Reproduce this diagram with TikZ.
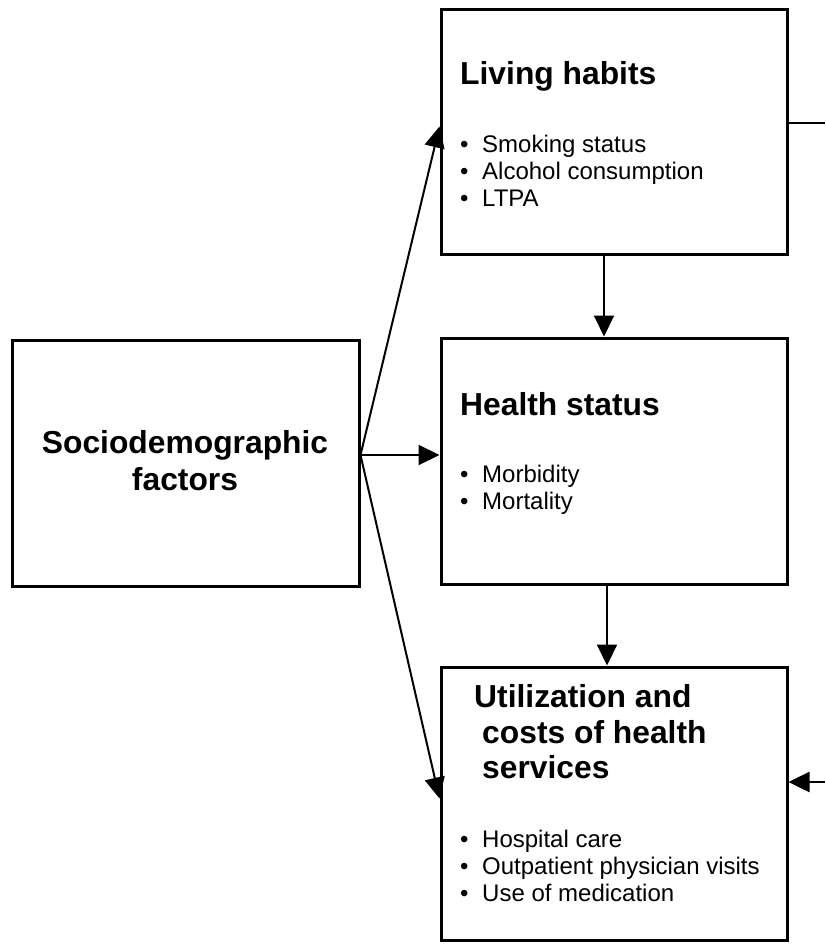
\documentclass[tikz,border=0pt]{standalone}
\usepackage{fontspec}
\setmainfont{Liberation Sans}
\usetikzlibrary{arrows.meta}
\begin{document}
\begin{tikzpicture}[x=1pt,y=-1pt,
  box/.style={draw,line width=3pt,rectangle,inner sep=0pt,minimum width=#1},
  ttl/.style={anchor=base west,inner sep=0pt,font=\fontsize{31.8}{36}\selectfont\bfseries},
  ttlc/.style={anchor=base,inner sep=0pt,font=\fontsize{31.8}{36}\selectfont\bfseries},
  itm/.style={anchor=base west,inner sep=0pt,font=\fontsize{24}{27}\selectfont},
  arr/.style={line width=2pt,-{Triangle[length=21pt,width=20pt]}},
  stub/.style={line width=2.6pt}]
\useasboundingbox (0,0) rectangle (825,949);
% boxes
\node[box=347pt,minimum height=246pt] (soc) at (185.5,463) {};
\node[box=346pt,minimum height=245pt] (lh) at (614,132.5) {};
\node[box=346pt,minimum height=246pt] (hs) at (614,461) {};
\node[box=346pt,minimum height=273pt] (ut) at (614,803.5) {};
% texts
\node[ttlc] (soc1) at (185,453) {Sociodemographic};
\node[ttlc] (soc2) at (185,490) {factors};
\newcommand{\bul}{\makebox[22pt][l]{\textbullet}}
\node[ttl] (lht) at (460,85) {Living habits};
\node[itm] (lh1) at (460,153) {\bul Smoking status};
\node[itm] (lh2) at (460,180) {\bul Alcohol consumption};
\node[itm] (lh3) at (460,207) {\bul LTPA};
\node[ttl] (hst) at (460,415) {Health status};
\node[itm] (hs1) at (460,482) {\bul Morbidity};
\node[itm] (hs2) at (460,509) {\bul Mortality};
\node[ttl] (ut1) at (474,707) {Utilization and};
\node[ttl] (ut2) at (482,743) {costs of health};
\node[ttl] (ut3) at (482,778) {services};
\node[itm] (ut4) at (460,847) {\bul Hospital care};
\node[itm] (ut5) at (460,874) {\bul Outpatient physician visits};
\node[itm] (ut6) at (460,901) {\bul Use of medication};
% connectors
\coordinate (fan) at ([yshift=8pt]soc.east);
\draw[arr] (fan) -- ([yshift=6pt]lh.west);
\draw[arr] (fan) -- ([yshift=6pt]hs.west);
\draw[arr] (fan) -- ([yshift=5pt]ut.west);
\draw[arr] ([xshift=-10pt]lh.south) -- ([xshift=-10pt]hs.north);
\draw[arr] ([xshift=-7pt]hs.south) -- ([xshift=-7pt]ut.north);
\coordinate (rt) at (825,123);
\coordinate (rb) at (825,782);
\draw[stub] (rt -| lh.east) -- (rt);
\draw[stub,-{Triangle[length=21pt,width=20pt]}] (rb) -- (rb -| ut.east);
\end{tikzpicture}
\end{document}
